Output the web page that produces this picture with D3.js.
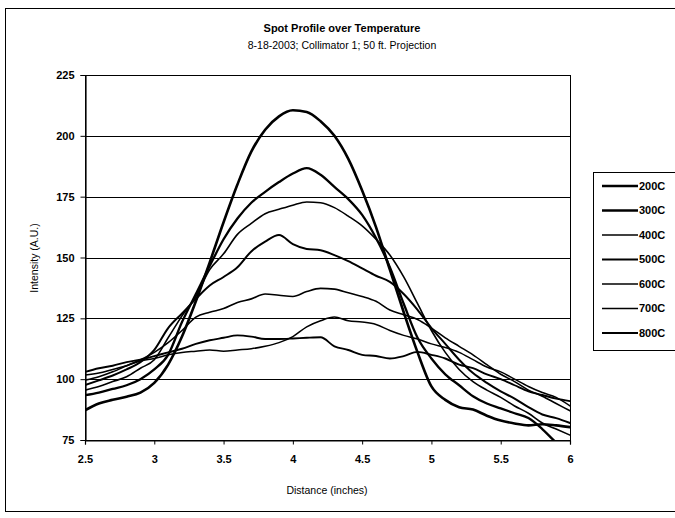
<!DOCTYPE html>
<html>
<head>
<meta charset="utf-8">
<script src="https://cdn.jsdelivr.net/npm/d3@7/dist/d3.min.js"></script>
<style>
  html, body { margin: 0; padding: 0; background: #fff; }
  svg { display: block; }
  text { font-family: "Liberation Sans", Arial, sans-serif; fill: #000; }
</style>
</head>
<body>
<svg id="chart" width="675" height="518"></svg>
<script>
// ---- Data ----
const titleText = "Spot Profile over Temperature";
const subtitleText = "8-18-2003; Collimator 1; 50 ft. Projection";
const xLabel = "Distance (inches)";
const yLabel = "Intensity (A.U.)";
const xTicks = [2.5, 3, 3.5, 4, 4.5, 5, 5.5, 6];
const yTicks = [75, 100, 125, 150, 175, 200, 225];
const seriesNames = ["200C", "300C", "400C", "500C", "600C", "700C", "800C"];
const distance = [2.5, 2.6, 2.7, 2.8, 2.9, 3.0, 3.1, 3.2, 3.3, 3.4, 3.5, 3.6, 3.7, 3.8, 3.9, 4.0, 4.1, 4.2,
                  4.3, 4.4, 4.5, 4.6, 4.7, 4.8, 4.9, 5.0, 5.1, 5.2, 5.3, 5.4, 5.5, 5.6, 5.7, 5.8, 5.9, 6.0];
const s200 = [87.2, 90, 91.5, 92.8, 94.5, 98.5, 106, 117.5, 132, 148, 164.5, 180, 193.5, 202.5, 208, 210.5, 209.8, 206,
              200, 190.5, 177.5, 162.5, 145, 127.5, 111, 97, 91.5, 88.5, 87.5, 85, 83, 81.8, 81, 81.5, 81, 80.3];
const s300 = [93.4, 94.5, 96, 97.5, 100, 104, 110, 123.5, 135, 146.5, 157.5, 166, 172.5, 177, 181, 184.5, 186.7, 184,
              179, 174, 167.5, 158, 146, 131, 117, 108.5, 102, 97.5, 93, 90, 88, 86, 84, 79.5, 74, 70];
const s400 = [95.5, 97, 99, 101, 104.5, 108, 117, 126, 134, 145, 151.5, 159.5, 164, 168, 169.8, 171.5, 172.8, 172.5,
              170.5, 167, 163, 157.5, 151, 142, 131, 120, 111, 104, 99, 95.5, 92.5, 89, 86, 82, 79.5, 77];
const s500 = [97.6, 99.5, 101.5, 104, 107, 112, 121, 127, 133, 138.5, 142, 146, 152.5, 156.5, 159.2, 155.5, 153.5, 153,
              151, 148.5, 145.5, 142.5, 140, 135, 128.5, 121, 114.5, 108, 102.5, 98.5, 95, 92, 88.5, 85.5, 84, 82];
const s600 = [99.6, 101, 103, 105.5, 108, 111, 115, 120, 125.5, 127.5, 129, 131.5, 133, 135, 134.5, 134, 136, 137.3,
              137, 135.5, 134, 132, 128.4, 126.5, 124.5, 121, 117, 113.5, 110, 106, 102, 99, 95.5, 93, 90, 87];
const s700 = [101.7, 102.5, 104, 105.5, 107.5, 108.5, 110, 111, 111.5, 112, 111.5, 112, 112.5, 113.5, 115, 117.5, 121.5, 124,
              125.5, 124, 123.5, 122.5, 120, 118, 116.5, 114.5, 113, 111, 108, 105, 103, 100, 97, 94.5, 92.5, 89];
const s800 = [103, 104.5, 105.5, 107, 108, 109.5, 111, 112.5, 114.5, 116, 117, 118, 117.5, 116.5, 116.5, 116.7, 117, 117.2,
              113.5, 112, 110, 109.5, 108.5, 109.5, 111.2, 110, 108.5, 106, 104.5, 102, 100, 97.5, 95, 93.5, 92, 91];
const seriesValues = [s200, s300, s400, s500, s600, s700, s800];

// ---- Styles ----
const strokeWidths = [2.6, 2.3, 1.6, 2.0, 1.6, 1.5, 1.9];

const svg = d3.select("#chart");
svg.append("rect").attr("width", 675).attr("height", 518).attr("fill", "#fff");

// outer chart border
svg.append("rect").attr("x", 5.5).attr("y", 8.5).attr("width", 720).attr("height", 503)
  .attr("fill", "none").attr("stroke", "#000").attr("stroke-width", 1);

const plot = { left: 85, right: 570, top: 75, bottom: 440 };
const x = d3.scaleLinear().domain([2.5, 6]).range([plot.left, plot.right]);
const y = d3.scaleLinear().domain([75, 225]).range([plot.bottom, plot.top]);

// gridlines
svg.append("g").selectAll("line").data(yTicks).join("line")
  .attr("x1", plot.left).attr("x2", plot.right)
  .attr("y1", d => Math.round(y(d)) + 0.5).attr("y2", d => Math.round(y(d)) + 0.5)
  .attr("stroke", "#000").attr("stroke-width", 1);

// plot border
svg.append("rect").attr("x", plot.left + 0.5).attr("y", Math.round(y(225)) + 0.5)
  .attr("width", plot.right - plot.left).attr("height", Math.round(y(75)) - Math.round(y(225)))
  .attr("fill", "none").attr("stroke", "#000").attr("stroke-width", 1);

// clip for series
svg.append("clipPath").attr("id", "clip").append("rect")
  .attr("x", plot.left).attr("y", plot.top).attr("width", plot.right - plot.left + 1).attr("height", plot.bottom - plot.top + 1);

const line = d3.line().x((d, i) => x(distance[i])).y(d => y(d)).curve(d3.curveMonotoneX);
const gSeries = svg.append("g").attr("clip-path", "url(#clip)");
seriesValues.forEach((vals, k) => {
  gSeries.append("path").datum(vals).attr("d", line)
    .attr("fill", "none").attr("stroke", "#000").attr("stroke-width", strokeWidths[k])
    .attr("stroke-linejoin", "round").attr("stroke-linecap", "round");
});

// axes
const xAxis = d3.axisBottom(x).tickValues(xTicks).tickSize(4).tickPadding(9).tickFormat(d3.format("~g"));
const gx = svg.append("g").attr("transform", `translate(0,${Math.round(y(75)) + 0.5})`).call(xAxis);
const yAxis = d3.axisLeft(y).tickValues(yTicks).tickSize(5).tickPadding(6).tickFormat(d3.format("d"));
const gy = svg.append("g").attr("transform", `translate(${plot.left + 0.5},0)`).call(yAxis);
[gx, gy].forEach(g => {
  g.select(".domain").attr("stroke", "#000").attr("stroke-width", 1.2);
  g.selectAll(".tick line").attr("stroke", "#000");
  g.selectAll(".tick text").attr("font-family", "Liberation Sans, Arial, sans-serif")
    .attr("font-size", 11).attr("font-weight", "bold").attr("fill", "#000");
});
gx.selectAll(".tick text").attr("dy", "0.9em");

// titles
svg.append("text").attr("x", 342).attr("y", 32).attr("text-anchor", "middle")
  .attr("font-size", 11).attr("font-weight", "bold").text(titleText);
svg.append("text").attr("x", 342).attr("y", 49).attr("text-anchor", "middle")
  .attr("font-size", 10.5).text(subtitleText);
svg.append("text").attr("x", 327).attr("y", 494).attr("text-anchor", "middle")
  .attr("font-size", 10.5).text(xLabel);
svg.append("text").attr("transform", "translate(38,258) rotate(-90)").attr("text-anchor", "middle")
  .attr("font-size", 10.5).text(yLabel);

// legend
const leg = svg.append("g");
leg.append("rect").attr("x", 593.5).attr("y", 172.5).attr("width", 120).attr("height", 178)
  .attr("fill", "#fff").attr("stroke", "#000").attr("stroke-width", 1);
const legY = d3.scalePoint().domain(seriesNames).range([186, 333]);
seriesNames.forEach((name, k) => {
  leg.append("line").attr("x1", 602).attr("x2", 638)
    .attr("y1", legY(name)).attr("y2", legY(name))
    .attr("stroke", "#000").attr("stroke-width", strokeWidths[k]);
  leg.append("text").attr("x", 639).attr("y", legY(name)).attr("dy", "0.35em")
    .attr("font-size", 11).attr("font-weight", "bold").text(name);
});
</script>
</body>
</html>
